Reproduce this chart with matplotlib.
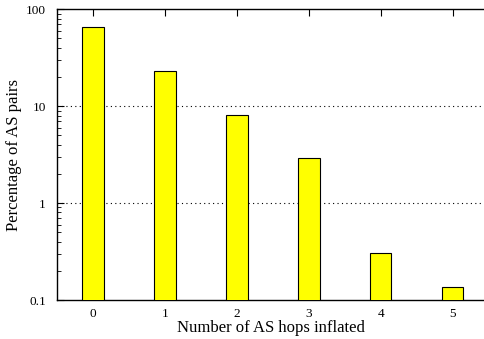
import matplotlib.pyplot as plt
from matplotlib.ticker import LogLocator, FixedLocator, NullFormatter

hops = [0, 1, 2, 3, 4, 5]
percent = [65, 23, 8.1, 2.9, 0.305, 0.137]
ytick_vals = [0.1, 1, 10, 100]
ytick_labels = ['0.1', '1', '10', '100']

plt.rcParams['font.family'] = ['Liberation Serif', 'DejaVu Serif']

fig = plt.figure(figsize=(4.85, 3.39), dpi=100)
ax = fig.add_axes([0.1175, 0.115, 0.8825, 0.858])

ax.bar(hops, percent, width=0.3, color='yellow', edgecolor='black', linewidth=0.8, zorder=3)
ax.set_yscale('log')
ax.set_ylim(0.1, 100)
ax.set_xlim(-0.5, 5.45)

ax.set_yticks(ytick_vals)
ax.set_yticklabels(ytick_labels)
ax.yaxis.set_minor_locator(LogLocator(base=10, subs=range(2, 10)))
ax.yaxis.set_minor_formatter(NullFormatter())
ax.set_xticks(hops)
ax.xaxis.set_minor_locator(FixedLocator([]))

ax.tick_params(which='both', direction='in', top=True, right=False, labelsize=9.5)
ax.tick_params(which='major', length=5)
ax.tick_params(which='minor', length=3)
ax.tick_params(axis='y', pad=8)
ax.tick_params(axis='x', pad=6)

for v in [1, 10]:
    ax.axhline(v, color='black', linestyle=(0, (1, 3)), linewidth=0.8, zorder=1)

for side in ['top', 'bottom', 'left']:
    ax.spines[side].set_linewidth(1.0)
ax.spines['right'].set_visible(False)

ax.set_xlabel('Number of AS hops inflated', fontsize=12, labelpad=0)
ax.set_ylabel('Percentage of AS pairs', fontsize=12, labelpad=3)

fig.savefig('out.png', dpi=100)
